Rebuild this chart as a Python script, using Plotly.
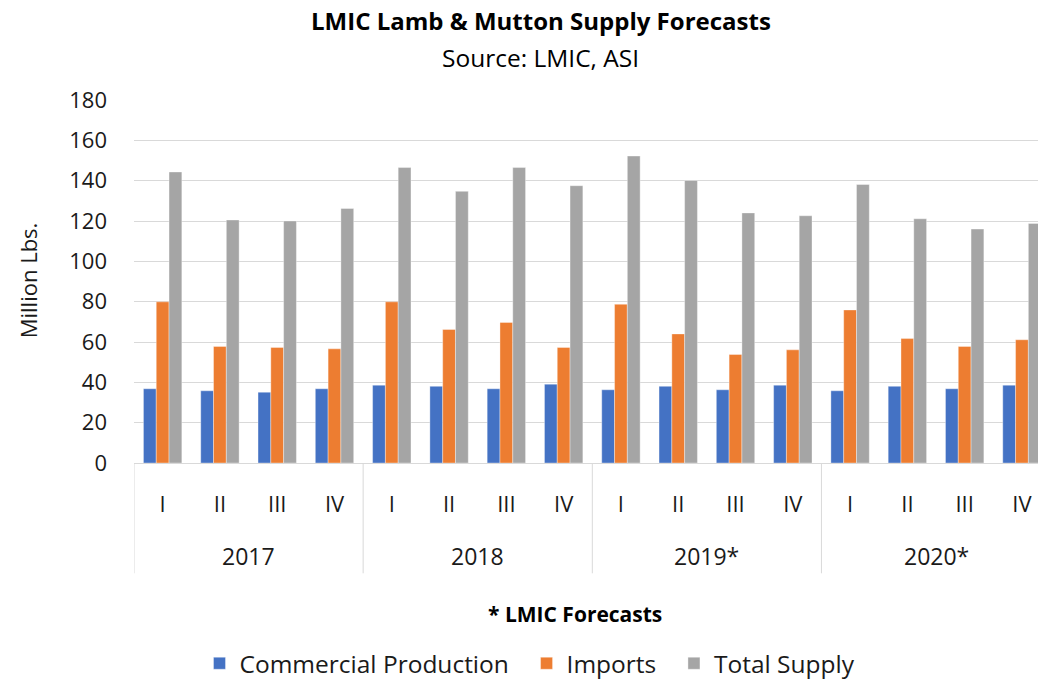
import plotly.graph_objects as go

years = ["2017", "2018", "2019*", "2020*"]
quarters = ["I", "II", "III", "IV"]

commercial_production = [36.8, 35.8, 35.1, 36.8,
                         38.6, 38.0, 36.8, 39.1,
                         36.3, 38.0, 36.3, 38.6,
                         35.8, 38.0, 36.8, 38.6]
imports = [79.9, 57.8, 57.3, 56.6,
           79.9, 66.2, 69.7, 57.3,
           78.7, 64.0, 53.8, 56.1,
           75.9, 61.7, 57.8, 61.1]
total_supply = [144.3, 120.5, 120.0, 126.2,
                146.5, 134.7, 146.5, 137.5,
                152.2, 140.1, 124.0, 122.6,
                138.1, 121.1, 116.0, 118.8]

FONT = "Open Sans, Lato, sans-serif"
TXT = "#1a1a1a"
GRID = "#d9d9d9"
PAD = "\u00a0\u00a0"  # extra room between legend entries

idx = list(range(len(years) * len(quarters)))
tick_text = quarters * len(years)

fig = go.Figure()
for name, vals, color in [
    ("Commercial Production", commercial_production, "#4472C4"),
    ("Imports", imports, "#ED7D31"),
    ("Total Supply", total_supply, "#A5A5A5"),
]:
    fig.add_trace(go.Bar(
        x=idx, y=vals, name=name + PAD,
        marker=dict(color=color, line=dict(color="rgba(255,255,255,0.6)", width=0.6)),
    ))

# plot area geometry (pixels)
H, W = 681, 1038
L, T, B = 134, 99.7, 462.7
ph = B - T


def py(p):
    return (B - p) / ph


def px(p):
    return (p - L) / (W - L)


annotations = [
    dict(text="<b>LMIC Lamb &amp; Mutton Supply Forecasts</b>", x=px(541), y=py(20),
         xref="paper", yref="paper", xanchor="center", yanchor="middle",
         showarrow=False, font=dict(size=24, family=FONT, color="#000")),
    dict(text="Source: LMIC, ASI", x=px(540), y=py(57),
         xref="paper", yref="paper", xanchor="center", yanchor="middle",
         showarrow=False, font=dict(size=24.5, family=FONT, color="#000")),
    dict(text="Million Lbs.", x=px(28), y=py(280),
         xref="paper", yref="paper", xanchor="center", yanchor="middle",
         textangle=-90, showarrow=False, font=dict(size=22, family=FONT, color=TXT)),
    dict(text="<b>* LMIC Forecasts</b>", x=px(575), y=py(614),
         xref="paper", yref="paper", xanchor="center", yanchor="middle",
         showarrow=False, font=dict(size=21, family=FONT, color="#000")),
]
for i, yr in enumerate(years):
    annotations.append(dict(
        text=yr, x=i * 4 + 1.5, y=py(556), xref="x", yref="paper",
        xanchor="center", yanchor="middle", showarrow=False,
        font=dict(size=23, family=FONT, color=TXT)))

shapes = []
for i in range(len(years)):
    shapes.append(dict(type="line", xref="x", yref="paper",
                       x0=i * 4 - 0.5, x1=i * 4 - 0.5, y0=0, y1=py(573),
                       line=dict(color=GRID, width=1)))

fig.update_layout(
    width=W, height=H,
    margin=dict(l=L, r=0, t=T, b=H - B, autoexpand=False),
    paper_bgcolor="white", plot_bgcolor="white",
    barmode="group", bargap=0.33, bargroupgap=0,
    font=dict(family=FONT, color=TXT, size=22),
    showlegend=True,
    legend=dict(orientation="h", x=px(536), y=py(663),
                xanchor="center", yanchor="middle",
                font=dict(size=24.5, family=FONT, color=TXT),
                itemwidth=30, traceorder="normal"),
    annotations=annotations,
    shapes=shapes,
)
fig.update_xaxes(
    range=[-0.5, 15.28], tickmode="array", tickvals=idx, ticktext=tick_text,
    showgrid=False, showline=True, linecolor=GRID, linewidth=1,
    ticks="", ticklabelstandoff=22, tickfont=dict(size=22, family=FONT, color=TXT),
)
fig.update_yaxes(
    range=[0, 180], dtick=20, showgrid=True, gridcolor=GRID, gridwidth=1,
    zeroline=False, showline=False, ticks="", ticklabelstandoff=26,
    tickfont=dict(size=22, family=FONT, color=TXT),
)

fig.write_html("out.html")
